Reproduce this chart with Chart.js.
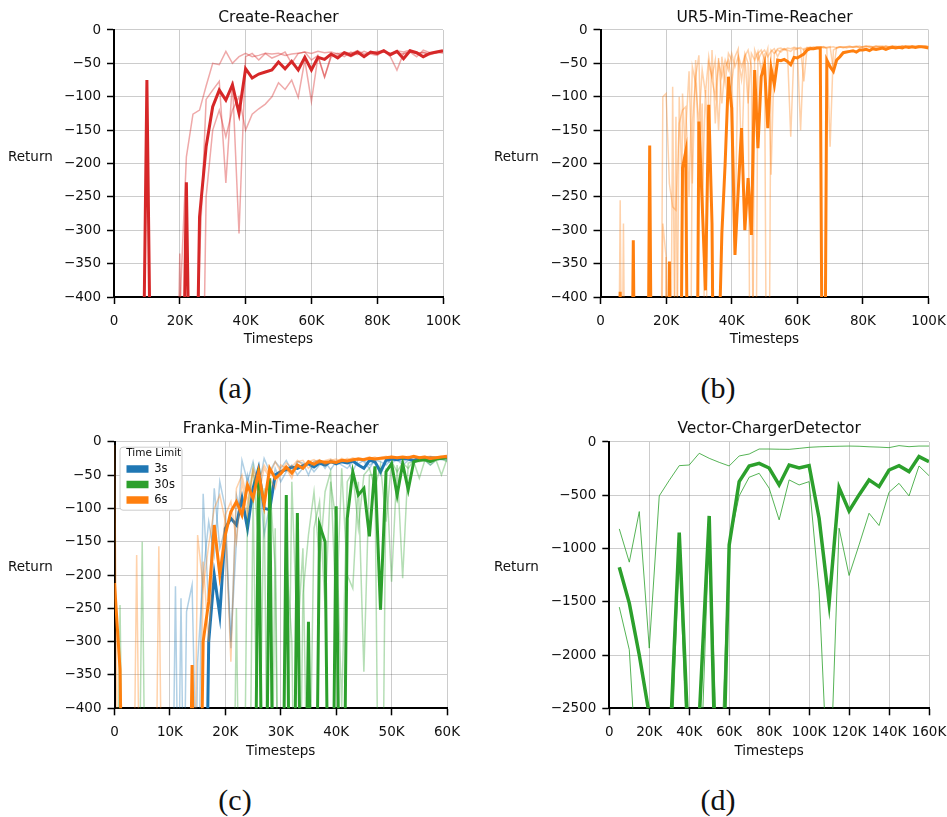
<!DOCTYPE html>
<html>
<head>
<meta charset="utf-8">
<script src="https://cdn.jsdelivr.net/npm/chart.js@4.4.1/dist/chart.umd.min.js"></script>
<style>
  body { margin: 0; background: #fff; }
  #page { position: relative; width: 947px; height: 817px; background: #fff; overflow: hidden; }
  canvas { position: absolute; }
  .ylab { position: absolute; font: 13.5px "DejaVu Sans", sans-serif; color: #111; transform: translateY(-50%); }
  .sub { position: absolute; font: 30px "Liberation Serif", serif; color: #111; transform: translate(-50%, -50%); }
</style>
</head>
<body>
<div id="page">
  <canvas id="chartA" width="470" height="350" style="left:0;top:0"></canvas>
  <canvas id="chartB" width="490" height="350" style="left:480px;top:0"></canvas>
  <canvas id="chartC" width="475" height="350" style="left:0;top:410px"></canvas>
  <canvas id="chartD" width="490" height="350" style="left:480px;top:410px"></canvas>
  <div class="ylab" style="left:8px;top:156px">Return</div>
  <div class="ylab" style="left:494px;top:156px">Return</div>
  <div class="ylab" style="left:8px;top:566px">Return</div>
  <div class="ylab" style="left:494px;top:566px">Return</div>
  <div class="sub" style="left:235px;top:388px">(a)</div>
  <div class="sub" style="left:718px;top:388px">(b)</div>
  <div class="sub" style="left:235px;top:800px">(c)</div>
  <div class="sub" style="left:718px;top:800px">(d)</div>
</div>
<script>
// ===== DATA =====
// timesteps in thousands; values under the axis floor are runs that dropped off the plot

// (a) Create-Reacher
const stepsA = [0, 2, 4, 6, 8, 10, 12, 14, 16, 18,
  20, 22, 24, 26, 28, 30, 32, 34, 36, 38,
  40, 42, 44, 46, 48, 50, 52, 54, 56, 58,
  60, 62, 64, 66, 68, 70, 72, 74, 76, 78,
  80, 82, 84, 86, 88, 90, 92, 94, 96, 98, 100];
const meanA = [-900, -900, -900, -900, -900, -75, -900, -900, -900, -900,
  -900, -228, -900, -280, -175, -115, -90, -105, -82, -125,
  -58, -72, -66, -63, -60, -48, -58, -47, -60, -41,
  -60, -41, -44, -36, -42, -34, -38, -33, -40, -33,
  -35, -31, -37, -32, -43, -31, -34, -40, -35, -33, -31];
const runA1 = [-900, -900, -900, -900, -900, -900, -900, -900, -900, -900,
  -420, -190, -126, -120, -84, -50, -52, -32, -50, -40,
  -35, -40, -38, -35, -36, -35, -38, -36, -35, -33,
  -35, -32, -34, -33, -36, -33, -35, -31, -36, -34,
  -32, -33, -35, -31, -33, -30, -36, -33, -37, -34, -31];
const runA2 = [-900, -900, -900, -900, -900, -900, -900, -900, -900, -900,
  -335, -900, -900, -340, -104, -90, -77, -229, -77, -305,
  -40, -35, -45, -35, -42, -38, -33, -50, -35, -33,
  -45, -38, -70, -38, -35, -40, -33, -37, -32, -36,
  -38, -31, -40, -60, -35, -33, -40, -30, -34, -33, -35];
const runA3 = [-900, -900, -900, -900, -900, -900, -900, -900, -900, -900,
  -900, -900, -900, -900, -250, -150, -120, -160, -120, -100,
  -150, -126, -118, -111, -100, -79, -89, -75, -101, -45,
  -107, -40, -71, -40, -38, -36, -40, -35, -38, -34,
  -36, -33, -35, -34, -36, -33, -35, -34, -36, -34, -33];

// (b) UR5-Min-Time-Reacher
const stepsB = [0, 1, 2, 3, 4, 5, 6, 7, 8, 9,
  10, 11, 12, 13, 14, 15, 16, 17, 18, 19,
  20, 21, 22, 23, 24, 25, 26, 27, 28, 29,
  30, 31, 32, 33, 34, 35, 36, 37, 38, 39,
  40, 41, 42, 43, 44, 45, 46, 47, 48, 49,
  50, 51, 52, 53, 54, 55, 56, 57, 58, 59,
  60, 61, 62, 63, 64, 65, 66, 67, 68, 69,
  70, 71, 72, 73, 74, 75, 76, 77, 78, 79,
  80, 81, 82, 83, 84, 85, 86, 87, 88, 89,
  90, 91, 92, 93, 94, 95, 96, 97, 98, 99, 100];
const meanB = [-900, -900, -900, -900, -900, -900, -392, -900, -900, -900,
  -315, -900, -900, -900, -900, -173, -900, -900, -900, -900,
  -900, -347, -900, -900, -900, -207, -182, -900, -900, -900,
  -137, -260, -390, -112, -290, -900, -500, -305, -200, -70,
  -117, -337, -240, -147, -300, -222, -307, -60, -177, -70,
  -52, -147, -57, -82, -45, -46, -44, -47, -52, -41,
  -42, -39, -36, -30, -28, -28, -27, -27, -900, -45,
  -55, -62, -45, -40, -34, -33, -32, -31, -33, -30,
  -30, -29, -31, -28, -29, -28, -27, -29, -27, -26,
  -27, -26, -27, -25, -26, -25, -26, -25, -25, -26, -27];
const runB1 = [-900, -900, -900, -900, -900, -900, -255, -900, -900, -900,
  -900, -900, -900, -900, -900, -900, -900, -900, -900, -100,
  -95, -230, -265, -270, -140, -120, -115, -250, -55, -80,
  -140, -60, -95, -40, -75, -100, -48, -70, -45, -60,
  -35, -55, -40, -75, -35, -50, -900, -30, -45, -35,
  -30, -40, -32, -28, -40, -30, -28, -32, -160, -30,
  -28, -26, -30, -27, -26, -28, -27, -26, -25, -27,
  -26, -25, -27, -25, -26, -25, -24, -26, -25, -24,
  -26, -25, -24, -25, -26, -24, -25, -24, -26, -25,
  -24, -25, -24, -25, -26, -24, -25, -24, -25, -24, -25];
const runB2 = [-900, -900, -900, -900, -900, -900, -900, -290, -900, -900,
  -900, -900, -900, -900, -900, -900, -900, -900, -900, -290,
  -340, -900, -85, -700, -100, -260, -150, -62, -230, -45,
  -200, -110, -600, -50, -70, -45, -150, -40, -80, -35,
  -45, -300, -38, -55, -40, -110, -35, -45, -32, -60,
  -35, -900, -30, -35, -30, -33, -28, -30, -32, -27,
  -29, -150, -28, -27, -26, -28, -26, -27, -25, -28,
  -175, -30, -27, -26, -25, -27, -25, -26, -25, -27,
  -25, -24, -26, -25, -24, -25, -26, -24, -25, -24,
  -26, -25, -24, -25, -24, -26, -25, -24, -25, -24, -25];
const runB3 = [-900, -900, -900, -900, -900, -900, -900, -900, -900, -900,
  -900, -900, -900, -900, -900, -900, -900, -900, -900, -900,
  -340, -900, -900, -130, -900, -95, -200, -900, -140, -70,
  -38, -250, -90, -200, -30, -140, -42, -110, -55, -45,
  -80, -40, -28, -200, -40, -30, -55, -900, -35, -30,
  -45, -28, -217, -35, -28, -27, -30, -27, -28, -26,
  -27, -28, -77, -26, -27, -25, -26, -25, -27, -26,
  -25, -60, -26, -25, -27, -25, -26, -25, -24, -26,
  -25, -24, -25, -26, -24, -25, -24, -26, -25, -24,
  -25, -26, -24, -25, -24, -25, -24, -26, -25, -24, -25];

// (c) Franka-Min-Time-Reacher
const stepsC = [0, 1, 2, 3, 4, 5, 6, 7, 8, 9,
  10, 11, 12, 13, 14, 15, 16, 17, 18, 19,
  20, 21, 22, 23, 24, 25, 26, 27, 28, 29,
  30, 31, 32, 33, 34, 35, 36, 37, 38, 39,
  40, 41, 42, 43, 44, 45, 46, 47, 48, 49,
  50, 51, 52, 53, 54, 55, 56, 57, 58, 59, 60];
const limitLabels = ['3s', '30s', '6s'];
const meanC3 = [-900, -900, -900, -900, -900, -900, -900, -900, -900, -900,
  -900, -900, -900, -900, -900, -900, -900, -300, -200, -260,
  -130, -115, -125, -85, -130, -70, -40, -100, -102, -50,
  -45, -42, -38, -40, -36, -33, -38, -32, -35, -30,
  -33, -30, -32, -29, -35, -40, -28, -30, -45, -28,
  -26, -27, -25, -26, -28, -25, -26, -24, -25, -24, -23];
const runC3a = [-900, -900, -900, -900, -900, -900, -900, -900, -900, -900,
  -900, -217, -900, -255, -215, -600, -78, -250, -70, -160,
  -130, -300, -150, -28, -60, -30, -70, -25, -45, -30,
  -40, -28, -45, -30, -32, -50, -30, -28, -40, -27,
  -35, -30, -28, -45, -26, -30, -40, -27, -30, -35,
  -26, -28, -30, -25, -28, -27, -25, -30, -26, -27, -25];
const runC3b = [-900, -900, -900, -900, -900, -900, -900, -900, -900, -900,
  -900, -900, -235, -900, -900, -330, -200, -120, -170, -60,
  -100, -310, -80, -110, -50, -90, -45, -140, -95, -40,
  -60, -45, -35, -50, -40, -33, -45, -35, -30, -42,
  -30, -35, -40, -30, -33, -28, -35, -30, -50, -28,
  -32, -27, -35, -28, -30, -26, -28, -35, -27, -26, -28];
const meanC30 = [-900, -900, -900, -900, -900, -900, -900, -900, -900, -900,
  -900, -900, -900, -900, -900, -900, -900, -900, -900, -900,
  -900, -900, -900, -900, -900, -900, -40, -900, -55, -900,
  -900, -80, -900, -107, -900, -270, -900, -125, -150, -900,
  -97, -900, -115, -45, -80, -70, -142, -37, -252, -45,
  -33, -80, -33, -72, -30, -28, -27, -30, -26, -25, -24];
const runC30a = [-900, -245, -900, -900, -900, -900, -900, -900, -900, -900,
  -900, -900, -900, -900, -900, -900, -900, -900, -900, -900,
  -900, -900, -250, -900, -100, -40, -150, -900, -60, -190,
  -900, -170, -300, -900, -230, -140, -75, -180, -75, -45,
  -260, -40, -200, -220, -60, -345, -50, -50, -900, -40,
  -210, -35, -205, -32, -30, -55, -28, -30, -27, -50, -26];
const runC30b = [-900, -900, -900, -900, -900, -150, -900, -900, -900, -900,
  -900, -900, -900, -900, -900, -900, -900, -900, -900, -900,
  -900, -900, -900, -900, -900, -80, -600, -70, -900, -130,
  -900, -700, -60, -300, -160, -650, -130, -90, -250, -60,
  -120, -400, -60, -45, -130, -50, -40, -70, -35, -120,
  -30, -45, -32, -40, -28, -30, -27, -35, -28, -26, -30];
const meanC6 = [-212, -342, -900, -900, -900, -900, -900, -900, -900, -900,
  -900, -900, -900, -900, -335, -900, -300, -240, -125, -200,
  -140, -105, -90, -110, -65, -85, -45, -95, -40, -55,
  -48, -38, -47, -35, -40, -30, -34, -29, -31, -30,
  -31, -28, -29, -27, -26, -27, -25, -26, -25, -24,
  -23, -24, -23, -24, -22, -24, -23, -25, -24, -23, -22];
const runC6a = [-5, -900, -900, -900, -170, -900, -900, -900, -900, -900,
  -900, -900, -900, -900, -900, -140, -220, -155, -100, -80,
  -120, -330, -70, -50, -90, -40, -60, -35, -50, -30,
  -45, -32, -38, -28, -35, -30, -27, -33, -28, -26,
  -30, -25, -28, -24, -27, -25, -23, -26, -24, -22,
  -25, -23, -24, -22, -25, -23, -22, -24, -23, -22, -24];
const runC6b = [-900, -900, -900, -900, -900, -900, -900, -900, -157, -900,
  -900, -900, -900, -900, -900, -900, -180, -300, -140, -200,
  -110, -90, -150, -60, -110, -45, -80, -40, -55, -70,
  -35, -40, -55, -30, -28, -40, -30, -27, -35, -28,
  -26, -30, -25, -28, -24, -26, -25, -23, -27, -24,
  -22, -25, -23, -24, -22, -25, -23, -22, -24, -23, -25];

// (d) Vector-ChargerDetector
const stepsD = [5, 10, 15, 20, 25, 30, 35, 40, 45, 50,
  55, 60, 65, 70, 75, 80, 85, 90, 95, 100,
  105, 110, 115, 120, 125, 130, 135, 140, 145, 150, 155, 160];
const meanD = [-1175, -1512, -2000, -2560, -3000, -3000, -850, -3000, -2600, -694,
  -4600, -966, -372, -225, -200, -244, -403, -216, -244, -222,
  -716, -1512, -428, -647, -497, -356, -419, -263, -222, -278, -137, -184];
const runD1 = [-816, -1128, -653, -1935, -506, -360, -222, -216, -106, -153,
  -191, -225, -131, -113, -66, -66, -68, -69, -60, -50,
  -45, -42, -40, -38, -40, -45, -48, -53, -34, -44, -38, -38];
const runD2 = [-1550, -1950, -3500, -3500, -3500, -3500, -1000, -3500, -3500, -800,
  -3500, -950, -506, -331, -294, -434, -731, -356, -403, -372,
  -1400, -3500, -809, -1253, -966, -669, -784, -472, -388, -506, -225, -316];

// ===== STYLE =====
const RED = '#d62728', ORANGE = '#ff7f0e', BLUE = '#1f77b4', GREEN = '#2ca02c';
const fade = (hex, a) => {
  const n = parseInt(hex.slice(1), 16);
  return 'rgba(' + (n >> 16) + ',' + ((n >> 8) & 255) + ',' + (n & 255) + ',' + a + ')';
};

Chart.defaults.font.family = '"DejaVu Sans", sans-serif';
Chart.defaults.font.size = 13.5;
Chart.defaults.color = '#111';

function series(xs, ys, color, width) {
  return {
    data: xs.map((x, i) => ({ x: x, y: ys[i] })),
    borderColor: color,
    backgroundColor: color,
    borderWidth: width,
    pointRadius: 0,
    tension: 0,
    fill: false
  };
}

const fmtX = v => v === 0 ? '0' : v + 'K';
const fmtY = v => v < 0 ? '\u2212' + Math.abs(v) : String(v);

const gridOpts = { color: 'rgba(0,0,0,0.2)', lineWidth: 1, tickColor: '#000', tickLength: 7, tickWidth: 1.5 };
const borderOpts = { color: '#000', width: 2 };

function makeChart(id, o) {
  return new Chart(document.getElementById(id), {
    type: 'line',
    data: { datasets: o.datasets },
    options: {
      responsive: false,
      animation: false,
      events: [],
      layout: { padding: o.pad },
      plugins: {
        legend: o.legend || { display: false },
        tooltip: { enabled: false },
        title: {
          display: true, text: o.title, color: '#111', fullSize: false,
          font: { size: 15.5, weight: 'normal' },
          padding: { top: 0, bottom: o.titleGap }
        }
      },
      scales: {
        x: {
          type: 'linear', min: 0, max: o.xMax,
          ticks: { stepSize: o.xStep, callback: fmtX, autoSkip: false, maxRotation: 0, padding: 9 },
          grid: gridOpts, border: borderOpts,
          title: { display: true, text: 'Timesteps', padding: 0 },
          afterFit: s => { s.height = o.xH; }
        },
        y: {
          min: o.yMin, max: 0,
          ticks: { stepSize: o.yStep, callback: fmtY, padding: 6 },
          grid: gridOpts, border: borderOpts,
          afterFit: s => { s.width = o.yW; }
        }
      }
    },
    plugins: o.plugins || []
  });
}

// ===== CHARTS =====
makeChart('chartA', {
  title: 'Create-Reacher', xMax: 100, xStep: 20, yMin: -400, yStep: 50,
  pad: { left: 0, top: 9, right: 27, bottom: 2 }, titleGap: 2.4, yW: 114, xH: 51,
  datasets: [
    series(stepsA, meanA, RED, 3),
    series(stepsA, runA1, fade(RED, 0.4), 1.5),
    series(stepsA, runA2, fade(RED, 0.4), 1.5),
    series(stepsA, runA3, fade(RED, 0.4), 1.5)
  ]
});

makeChart('chartB', {
  title: 'UR5-Min-Time-Reacher', xMax: 100, xStep: 20, yMin: -400, yStep: 50,
  pad: { left: 0, top: 9, right: 41.5, bottom: 2 }, titleGap: 2.4, yW: 120.5, xH: 51,
  datasets: [
    series(stepsB, meanB, ORANGE, 3),
    series(stepsB, runB1, fade(ORANGE, 0.35), 1.5),
    series(stepsB, runB2, fade(ORANGE, 0.35), 1.5),
    series(stepsB, runB3, fade(ORANGE, 0.35), 1.5)
  ]
});

// legend sits inside the axes and is painted again over the lines
const legendOnTop = {
  id: 'legendOnTop',
  afterLayout(chart) {
    const ca = chart.chartArea;
    chart.legend.left = ca.left + 8;
    chart.legend.top = ca.top + 2;
    chart.legend.bottom = ca.bottom;
  },
  afterDatasetsDraw(chart) {
    const ca = chart.chartArea, ctx = chart.ctx;
    ctx.save();
    ctx.fillStyle = '#fff';
    ctx.strokeStyle = '#ccc';
    ctx.lineWidth = 1;
    ctx.beginPath();
    ctx.roundRect(ca.left + 5.5, ca.top + 5.5, 62, 63, 3);
    ctx.fill();
    ctx.stroke();
    ctx.restore();
    chart.legend.draw();
  }
};

const limitColors = [BLUE, GREEN, ORANGE];

makeChart('chartC', {
  title: 'Franka-Min-Time-Reacher', xMax: 60, xStep: 10, yMin: -400, yStep: 50,
  pad: { left: 0, top: 10, right: 28, bottom: 0.7 }, titleGap: 3.1, yW: 114.5, xH: 51,
  datasets: [
    series(stepsC, meanC6, ORANGE, 3),
    series(stepsC, runC6a, fade(ORANGE, 0.35), 1.5),
    series(stepsC, runC6b, fade(ORANGE, 0.35), 1.5),
    series(stepsC, meanC30, GREEN, 3),
    series(stepsC, runC30a, fade(GREEN, 0.35), 1.5),
    series(stepsC, runC30b, fade(GREEN, 0.35), 1.5),
    series(stepsC, meanC3, BLUE, 3),
    series(stepsC, runC3a, fade(BLUE, 0.35), 1.5),
    series(stepsC, runC3b, fade(BLUE, 0.35), 1.5)
  ],
  legend: {
    display: true, position: 'chartArea', align: 'start',
    title: { display: true, text: 'Time Limit', font: { size: 10.5 }, padding: { top: 4, bottom: -1 } },
    labels: {
      boxWidth: 22, boxHeight: 7.5, padding: 4, font: { size: 11.5 },
      generateLabels: () => limitLabels.map((t, i) => ({
        text: t, fillStyle: limitColors[i], strokeStyle: limitColors[i], lineWidth: 0, hidden: false, datasetIndex: i
      }))
    }
  },
  plugins: [legendOnTop]
});

makeChart('chartD', {
  title: 'Vector-ChargerDetector', xMax: 160, xStep: 20, yMin: -2500, yStep: 500,
  pad: { left: 0, top: 10, right: 41, bottom: 0.7 }, titleGap: 3.4, yW: 129.3, xH: 51,
  datasets: [
    series(stepsD, meanD, GREEN, 3.5),
    series(stepsD, runD1, fade(GREEN, 0.8), 1),
    series(stepsD, runD2, fade(GREEN, 0.8), 1)
  ]
});
</script>
</body>
</html>
